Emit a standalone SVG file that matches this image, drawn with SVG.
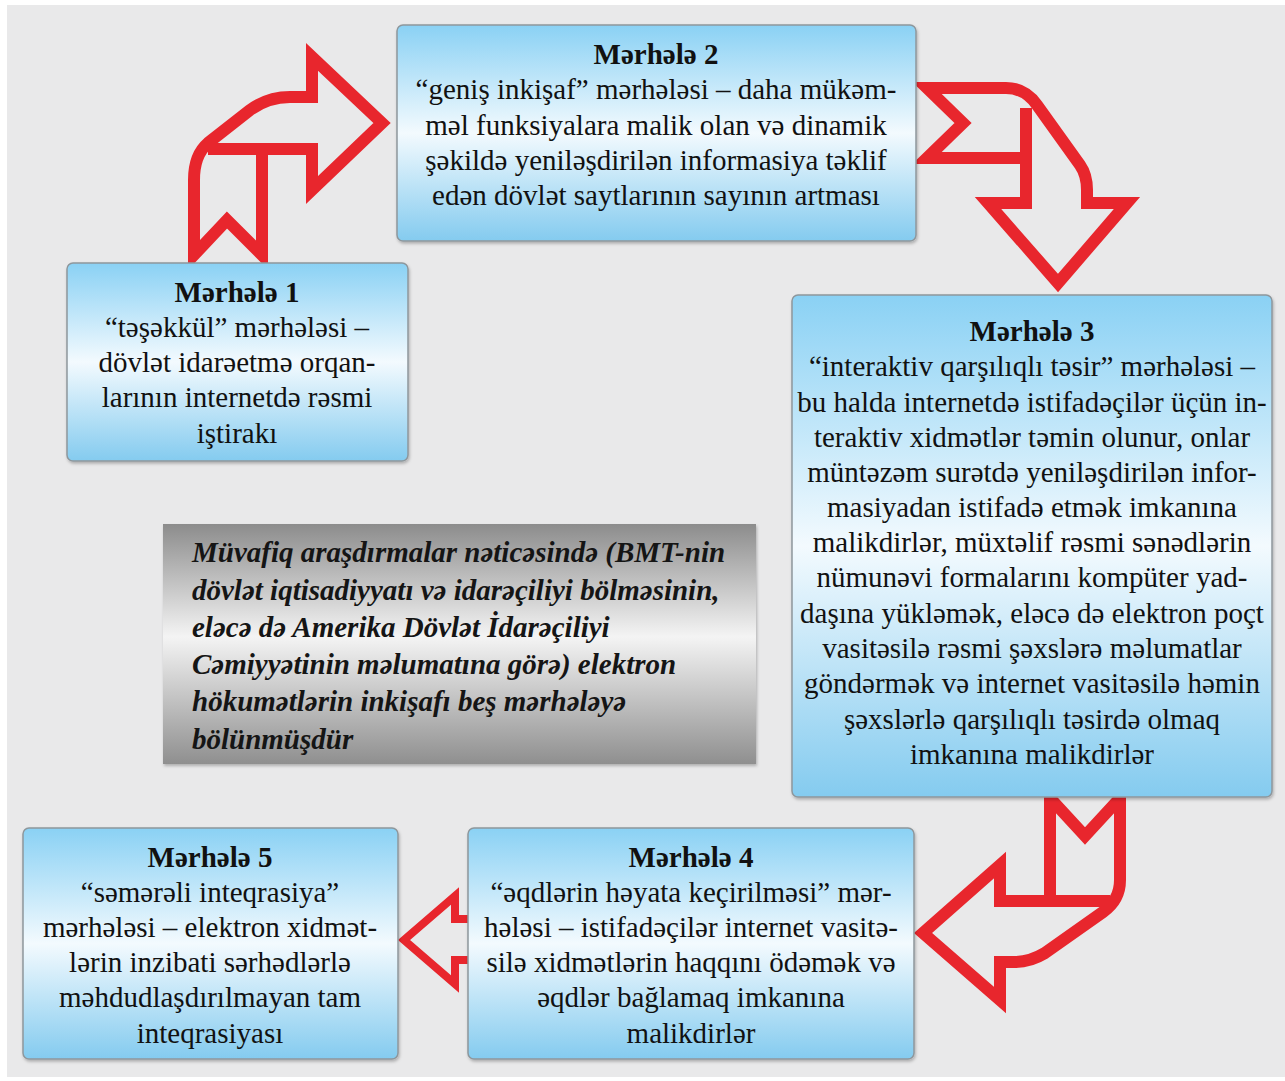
<svg xmlns="http://www.w3.org/2000/svg" width="1285" height="1081" viewBox="0 0 1285 1081">
<defs>
<linearGradient id="blue" x1="0" y1="0" x2="0" y2="1">
<stop offset="0" stop-color="#8ad1f4"/>
<stop offset="0.5" stop-color="#f3fafe"/>
<stop offset="1" stop-color="#84cbef"/>
</linearGradient>
<linearGradient id="grey" x1="0" y1="0" x2="0" y2="1">
<stop offset="0" stop-color="#8c8c8c"/>
<stop offset="0.47" stop-color="#f4f4f4"/>
<stop offset="1" stop-color="#8f8f8f"/>
</linearGradient>
<filter id="sh" x="-5%" y="-5%" width="110%" height="110%">
<feDropShadow dx="1" dy="2" stdDeviation="1.5" flood-color="#000" flood-opacity="0.25"/>
</filter>
</defs>
<style>
.box{fill:url(#blue);stroke:#8e979c;stroke-width:1.5;filter:url(#sh)}
.t{font-family:"Liberation Serif","Times New Roman",serif;font-size:29px;fill:#111;text-anchor:middle}
.b{font-weight:bold}
.it{font-family:"Liberation Serif","Times New Roman",serif;font-size:29px;font-weight:bold;font-style:italic;fill:#151515}
.arr{fill:none;stroke:#e8262d;stroke-width:12;stroke-linejoin:miter;stroke-miterlimit:10}
</style>
<rect x="0" y="0" width="1285" height="1081" fill="#ffffff"/>
<rect x="7" y="5" width="1278" height="1072" fill="#e9e9ea"/>

<g id="connectors">
<g id="arrow-1-2">
<path class="arr" d="M262,149 L312,149 L312,190 L382,123 L312,57 L312,97 L290,97 Q268,97 250,110 L208,143 Q194,155 194,180 L194,255 L227,220 L262,255 Z"/>
<path class="arr" d="M208,149 L262,149"/>
</g>
<g id="arrow-2-3">
<path class="arr" d="M927,88 L1006,88 Q1025,88 1037,105 L1080,165 Q1087,175 1087,190 L1087,203 L1127,203 L1058,283 L988,203 L1026,203 L1026,158 L927,158 L963,123 Z"/>
<path class="arr" d="M1026,158 L1026,108"/>
</g>
<g id="arrow-3-4">
<path class="arr" d="M1050,798 L1085,836 L1120,798 L1120,880 Q1120,900 1103,912 L1045,953 Q1030,962 1015,962 L1000,962 L1000,1000 L923,933 L1000,865 L1000,901 L1050,901 Z"/>
<path class="arr" d="M1050,901 L1110,901"/>
</g>
<g id="arrow-4-5">
<path class="arr" style="stroke-width:8" d="M468,919 L455,919 L455,896 L404,940 L455,984 L455,960 L468,960"/>
</g>
</g>

<g id="node-1">
<rect class="box" x="67" y="263" width="341" height="198" rx="6"/>
<text class="t b" x="237" y="302">Mərhələ 1</text>
<text class="t" x="237" y="337">“təşəkkül” mərhələsi –</text>
<text class="t" x="237" y="372">dövlət idarəetmə orqan-</text>
<text class="t" x="237" y="407">larının internetdə rəsmi</text>
<text class="t" x="237" y="443">iştirakı</text>
</g>

<g id="node-2">
<rect class="box" x="397" y="25" width="519" height="216" rx="6"/>
<text class="t b" x="656" y="64">Mərhələ 2</text>
<text class="t" x="656" y="99">“geniş inkişaf” mərhələsi – daha mükəm-</text>
<text class="t" x="656" y="135">məl funksiyalara malik olan və dinamik</text>
<text class="t" x="656" y="170">şəkildə yeniləşdirilən informasiya təklif</text>
<text class="t" x="656" y="205">edən dövlət saytlarının sayının artması</text>
</g>

<g id="node-3">
<rect class="box" x="792" y="295" width="480" height="502" rx="6"/>
<text class="t b" x="1032" y="341">Mərhələ 3</text>
<text class="t" x="1032" y="376">“interaktiv qarşılıqlı təsir” mərhələsi –</text>
<text class="t" x="1032" y="412">bu halda internetdə istifadəçilər üçün in-</text>
<text class="t" x="1032" y="447">teraktiv xidmətlər təmin olunur, onlar</text>
<text class="t" x="1032" y="482">müntəzəm surətdə yeniləşdirilən infor-</text>
<text class="t" x="1032" y="517">masiyadan istifadə etmək imkanına</text>
<text class="t" x="1032" y="552">malikdirlər, müxtəlif rəsmi sənədlərin</text>
<text class="t" x="1032" y="587">nümunəvi formalarını kompüter yad-</text>
<text class="t" x="1032" y="623">daşına yükləmək, eləcə də elektron poçt</text>
<text class="t" x="1032" y="658">vasitəsilə rəsmi şəxslərə məlumatlar</text>
<text class="t" x="1032" y="693">göndərmək və internet vasitəsilə həmin</text>
<text class="t" x="1032" y="729">şəxslərlə qarşılıqlı təsirdə olmaq</text>
<text class="t" x="1032" y="764">imkanına malikdirlər</text>
</g>

<g id="node-4">
<rect class="box" x="468" y="828" width="446" height="231" rx="6"/>
<text class="t b" x="691" y="867">Mərhələ 4</text>
<text class="t" x="691" y="902">“əqdlərin həyata keçirilməsi” mər-</text>
<text class="t" x="691" y="937">hələsi – istifadəçilər internet vasitə-</text>
<text class="t" x="691" y="972">silə xidmətlərin haqqını ödəmək və</text>
<text class="t" x="691" y="1007">əqdlər bağlamaq imkanına</text>
<text class="t" x="691" y="1043">malikdirlər</text>
</g>

<g id="node-5">
<rect class="box" x="23" y="828" width="375" height="231" rx="6"/>
<text class="t b" x="210" y="867">Mərhələ 5</text>
<text class="t" x="210" y="902">“səmərəli inteqrasiya”</text>
<text class="t" x="210" y="937">mərhələsi – elektron xidmət-</text>
<text class="t" x="210" y="972">lərin inzibati sərhədlərlə</text>
<text class="t" x="210" y="1007">məhdudlaşdırılmayan tam</text>
<text class="t" x="210" y="1043">inteqrasiyası</text>
</g>

<g id="note">
<rect x="163" y="524" width="593" height="240" fill="url(#grey)" filter="url(#sh)"/>
<text class="it" x="192" y="562">Müvafiq araşdırmalar nəticəsində (BMT-nin</text>
<text class="it" x="192" y="600">dövlət iqtisadiyyatı və idarəçiliyi bölməsinin,</text>
<text class="it" x="192" y="637">eləcə də Amerika Dövlət İdarəçiliyi</text>
<text class="it" x="192" y="674">Cəmiyyətinin məlumatına görə) elektron</text>
<text class="it" x="192" y="711">hökumətlərin inkişafı beş mərhələyə</text>
<text class="it" x="192" y="749">bölünmüşdür</text>
</g>
</svg>
